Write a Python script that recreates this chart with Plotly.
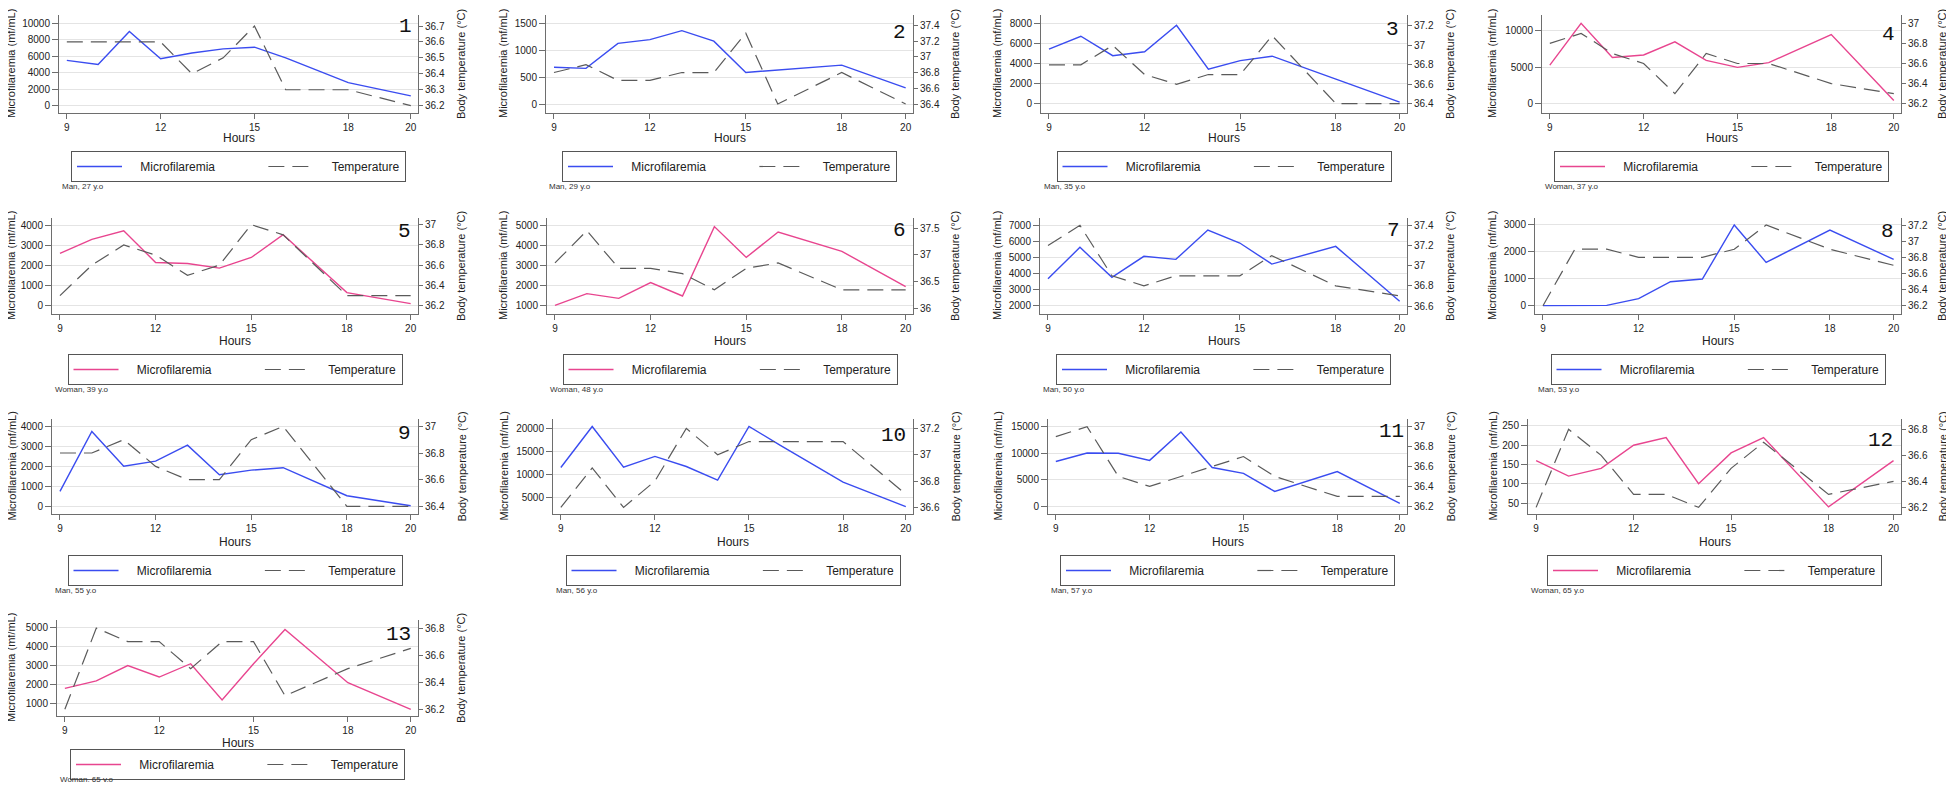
import plotly.graph_objects as go

# page body has an 8px margin: figure is sized to fit the window, coordinates offset by 8px
OFF = 8
FW, FH = 1938, 774

# ---------------- data ----------------
hours = [9, 10, 11, 12, 13, 14, 15, 16, 18, 20]
hour_ticks = [9, 12, 15, 18, 20]

mf_1 = [5500, 5000, 9000, 5700, 6400, 6900, 7100, 5800, 2800, 1200]
temp_1 = [36.6, 36.6, 36.6, 36.6, 36.4, 36.5, 36.7, 36.3, 36.3, 36.2]
mf_2 = [690, 670, 1130, 1200, 1365, 1170, 595, 640, 730, 310]
temp_2 = [36.8, 36.9, 36.7, 36.7, 36.8, 36.8, 37.3, 36.4, 36.8, 36.4]
mf_3 = [5400, 6700, 4750, 5150, 7800, 3400, 4250, 4700, 2400, 100]
temp_3 = [36.8, 36.8, 37.0, 36.7, 36.6, 36.7, 36.7, 37.1, 36.4, 36.4]
mf_4 = [5300, 11050, 6350, 6700, 8500, 5950, 5000, 5650, 9500, 450]
temp_4 = [36.8, 36.9, 36.7, 36.6, 36.3, 36.7, 36.6, 36.6, 36.4, 36.3]
mf_5 = [2600, 3300, 3730, 2150, 2100, 1870, 2400, 3530, 650, 100]
temp_5 = [36.3, 36.6, 36.8, 36.7, 36.5, 36.6, 37.0, 36.9, 36.3, 36.3]
mf_6 = [980, 1570, 1330, 2120, 1450, 4920, 3380, 4650, 3680, 1920]
temp_6 = [36.85, 37.45, 36.75, 36.75, 36.65, 36.35, 36.75, 36.85, 36.35, 36.35]
mf_7 = [3680, 5630, 3760, 5070, 4880, 6710, 5900, 4590, 5690, 2270]
temp_7 = [37.2, 37.4, 36.9, 36.8, 36.9, 36.9, 36.9, 37.1, 36.8, 36.7]
mf_8 = [0, 10, 10, 260, 890, 990, 3000, 1610, 2810, 1720]
temp_8 = [36.2, 36.9, 36.9, 36.8, 36.8, 36.8, 36.9, 37.2, 36.9, 36.7]
mf_9 = [750, 3740, 2010, 2260, 3060, 1580, 1810, 1930, 530, 30]
temp_9 = [36.8, 36.8, 36.9, 36.7, 36.6, 36.6, 36.9, 37.0, 36.4, 36.4]
mf_10 = [11500, 20400, 11550, 13900, 11700, 8750, 20400, 16300, 8300, 3000]
temp_10 = [36.6, 36.9, 36.6, 36.8, 37.2, 37.0, 37.1, 37.1, 37.1, 36.7]
mf_11 = [8450, 10050, 10000, 8650, 14000, 7300, 6200, 2800, 6550, 550]
temp_11 = [36.9, 37.0, 36.5, 36.4, 36.5, 36.6, 36.7, 36.5, 36.3, 36.3]
mf_12 = [160, 120, 140, 200, 220, 100, 180, 220, 40, 160]
temp_12 = [36.2, 36.8, 36.6, 36.3, 36.3, 36.2, 36.5, 36.7, 36.3, 36.4]
mf_13 = [1800, 2200, 3000, 2400, 3100, 1200, 3100, 4900, 2100, 700]
temp_13 = [36.2, 36.8, 36.7, 36.7, 36.5, 36.7, 36.7, 36.3, 36.5, 36.65]

mf_series = [mf_1, mf_2, mf_3, mf_4, mf_5, mf_6, mf_7, mf_8, mf_9, mf_10, mf_11, mf_12, mf_13]
temp_series = [temp_1, temp_2, temp_3, temp_4, temp_5, temp_6, temp_7, temp_8, temp_9,
               temp_10, temp_11, temp_12, temp_13]
sexes = ["M", "M", "M", "W", "W", "W", "M", "M", "M", "M", "M", "W", "W"]
captions = ["Man, 27 y.o", "Man, 29 y.o", "Man, 35 y.o", "Woman, 37 y.o",
            "Woman, 39 y.o", "Woman, 48 y.o", "Man, 50 y.o", "Man, 53 y.o",
            "Man, 55 y.o", "Man, 56 y.o", "Man, 57 y.o", "Woman, 65 y.o",
            "Woman, 65 y.o"]

# left axis: (first tick, step, range)
mf_axes = [(0, 2000, [-887, 11008]), (0, 500, [-153, 1653]), (0, 2000, [-1000, 8833]),
           (0, 5000, [-1279, 12192]), (0, 1000, [-415, 4365]), (1000, 1000, [550, 5350]),
           (2000, 1000, [1481, 7456]), (0, 1000, [-310, 3260]), (0, 1000, [-382, 4365]),
           (5000, 5000, [1395, 22019]), (0, 5000, [-1437, 16437]), (50, 50, [21.6, 268]),
           (1000, 1000, [350, 5400])]
temp_axes = [(36.2, 0.1, [36.154, 36.769]), (36.4, 0.2, [36.286, 37.531]),
             (36.4, 0.2, [36.304, 37.313]), (36.2, 0.2, [36.107, 37.083]),
             (36.2, 0.2, [36.118, 37.066]), (36.0, 0.5, [35.90, 37.686]),
             (36.6, 0.2, [36.521, 37.473]), (36.2, 0.2, [36.097, 37.287]),
             (36.4, 0.2, [36.343, 37.055]), (36.6, 0.2, [36.55, 37.271]),
             (36.2, 0.2, [36.123, 37.077]), (36.2, 0.2, [36.149, 36.879]),
             (36.2, 0.2, [36.15, 36.86])]

# ---------------- layout geometry (window pixels) ----------------
plot_left = [59, 546, 1041, 1542, 52, 547, 1040, 1535, 52, 553, 1048, 1528, 57]
plot_right = [418, 913, 1407, 1901, 418, 913, 1407, 1901, 418, 913, 1407, 1901, 418]
row_top = [15, 218, 419, 620]
row_bottom = [113, 314, 514, 716]
left_title_x = [11, 503, 997, 1492]
right_title_x = [461, 955, 1450, 1942]
num_dy = [12, 17, 14, 19, 14, 12, 12, 13, 14, 16, 12, 21, 14]
num_dx = [4, 5, 6, 4, 5, 5, 5, 5, 5, 5, 1, 6, 5]
legend_dy = [136] * 12 + [129]
caption_dy = [171] * 12 + [159]

BLUE = "#3a4cf0"
PINK = "#e8458f"
GRAY = "#5a5a5a"
AXIS = "#6e6e6e"
FONT = "Liberation Sans, Arial, sans-serif"
NB = "\u00a0"

def px(x):
    return (x - OFF) / FW

def py(y):
    return 1 - (y - OFF) / FH

fig = go.Figure()
layout = dict(
    width=FW, height=FH, margin=dict(l=0, r=0, t=0, b=0),
    paper_bgcolor="white", plot_bgcolor="white",
    font=dict(family=FONT, size=10, color="#222"),
)
annotations = []

for i in range(13):
    k = i + 1
    r, c = divmod(i, 4)
    top, bot = row_top[r], row_bottom[r]
    L, R = plot_left[i], plot_right[i]
    xa = "x" if k == 1 else f"x{k}"
    ya1 = f"y{2 * k - 1}" if k > 1 else "y"
    ya2 = f"y{2 * k}"
    leg = "legend" if k == 1 else f"legend{k}"
    color = PINK if sexes[i] == "W" else BLUE

    fig.add_trace(go.Scatter(x=hours, y=mf_series[i], mode="lines",
                             name=NB * 4 + "Microfilaremia" + NB * 13,
                             line=dict(color=color, width=1.4), xaxis=xa, yaxis=ya1,
                             legend=leg, hoverinfo="skip"))
    fig.add_trace(go.Scatter(x=hours, y=temp_series[i], mode="lines",
                             name=NB * 4 + "Temperature",
                             line=dict(color=GRAY, width=1.2, dash="16px,8px"),
                             xaxis=xa, yaxis=ya2, legend=leg, hoverinfo="skip"))

    xk = "xaxis" if k == 1 else f"xaxis{k}"
    y1k = "yaxis" if k == 1 else f"yaxis{2 * k - 1}"
    y2k = f"yaxis{2 * k}"
    layout[xk] = dict(domain=[px(L), px(R)], anchor=ya1, range=[8.75, 20.23],
                      tickmode="array", tickvals=hour_ticks, showgrid=False,
                      showline=True, linecolor=AXIS, linewidth=1, ticks="outside",
                      ticklen=5, tickcolor=AXIS, tickfont=dict(size=10, color="#222"),
                      zeroline=False, fixedrange=True)
    t0, dt, rng = mf_axes[i]
    layout[y1k] = dict(domain=[py(bot), py(top)], anchor=xa, range=rng, tickmode="linear",
                       tick0=t0, dtick=dt, tickformat="d", showgrid=True,
                       gridcolor="#e4e4e4", gridwidth=1,
                       showline=True, linecolor=AXIS, linewidth=1, ticks="outside",
                       ticklen=6, tickcolor=AXIS, tickfont=dict(size=10, color="#222"),
                       zeroline=False, fixedrange=True)
    t0, dt, rng = temp_axes[i]
    layout[y2k] = dict(overlaying=ya1, side="right", anchor=xa, range=rng,
                       tickmode="linear", tick0=t0, dtick=dt, showgrid=False,
                       showline=True, linecolor=AXIS, linewidth=1, ticks="outside",
                       ticklen=4, tickcolor=AXIS, tickfont=dict(size=10, color="#222"),
                       zeroline=False, fixedrange=True)
    layout[leg] = dict(x=px((L + R) / 2), xanchor="center", y=py(top + legend_dy[i]),
                       yanchor="top", orientation="h", borderwidth=1, bordercolor="#555",
                       bgcolor="white", font=dict(size=12, family=FONT, color="#222"),
                       itemwidth=45, itemclick=False, itemdoubleclick=False)

    mid = (top + bot) / 2
    annotations += [
        dict(text="Hours", x=px((L + R) / 2), y=py(top + 123), xref="paper", yref="paper",
             showarrow=False, xanchor="center", yanchor="middle",
             font=dict(size=12, family=FONT, color="#222")),
        dict(text="Microfilaremia (mf/mL)", x=px(left_title_x[c]), y=py(mid), xref="paper",
             yref="paper", showarrow=False, textangle=-90, xanchor="center",
             yanchor="middle", font=dict(size=11, family=FONT, color="#222")),
        dict(text="Body temperature (°C)", x=px(right_title_x[c]), y=py(mid), xref="paper",
             yref="paper", showarrow=False, textangle=-90, xanchor="center",
             yanchor="middle", font=dict(size=11, family=FONT, color="#222")),
        dict(text=str(k), x=px(R - num_dx[i]), y=py(top + num_dy[i]), xref="paper",
             yref="paper", showarrow=False, xanchor="right", yanchor="middle",
             font=dict(size=21, family="Liberation Mono, DejaVu Sans Mono, monospace",
                       color="#111")),
        dict(text=captions[i], x=px(L + 1), y=py(top + caption_dy[i]), xref="paper",
             yref="paper", showarrow=False, xanchor="left", yanchor="middle",
             font=dict(size=8, family=FONT, color="#333")),
    ]

layout["annotations"] = annotations
fig.update_layout(**layout)
fig.write_html("out.html")
